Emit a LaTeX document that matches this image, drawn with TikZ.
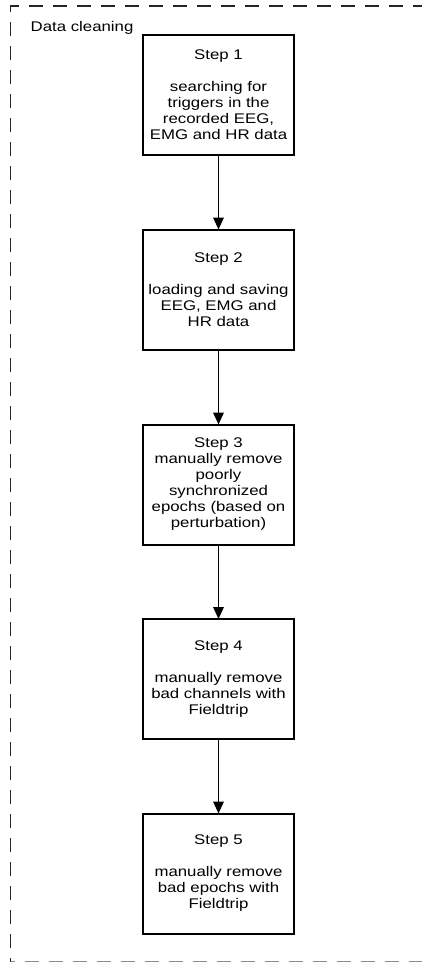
\documentclass[tikz,border=0pt]{standalone}
\usepackage{fontspec}
\setmainfont{Liberation Sans}[FakeStretch=1.2]
\usetikzlibrary{arrows.meta}
\begin{document}
\begin{tikzpicture}[x=1pt,y=-1pt,
  stepbox/.style={draw=black,line width=2pt,minimum width=151.6pt,minimum height=120pt,inner sep=0pt,outer sep=0pt,align=center,font=\fontsize{14}{16}\selectfont,text=black},
  flow/.style={line width=1.9pt,-{Triangle[length=12pt,width=10.5pt]}},
  frame/.style={draw=black!85,line width=1.5pt,dash pattern=on 14pt off 10pt,dash phase=10pt}]
\useasboundingbox (0,0) rectangle (422,962);
\clip (0,0) rectangle (422,962);
\draw[frame] (10.5,962) -- (10.5,6) -- (445,6);
\draw[frame,draw=black!45] (10.5,962.2) -- (445,962.2);
\node[anchor=base west,font=\fontsize{14}{16}\selectfont,text=black,inner sep=0pt] (title) at (30.5,31.5) {Data cleaning};
\node[stepbox] (s1) at (218.5,95) {Step 1\\[16pt]searching for\\triggers in the\\recorded EEG,\\EMG and HR data};
\node[stepbox] (s2) at (218.5,289.5) {Step 2\\[16pt]loading and saving\\EEG, EMG and\\HR data};
\node[stepbox] (s3) at (218.5,484.5) {Step 3\\manually remove\\poorly\\synchronized\\epochs (based on\\perturbation)};
\node[stepbox] (s4) at (218.5,679) {Step 4\\[16pt]manually remove\\bad channels with\\Fieldtrip};
\node[stepbox] (s5) at (218.5,873.5) {Step 5\\[16pt]manually remove\\bad epochs with\\Fieldtrip};
\draw[flow] (s1) -- (s2);
\draw[flow] (s2) -- (s3);
\draw[flow] (s3) -- (s4);
\draw[flow] (s4) -- (s5);
\end{tikzpicture}
\end{document}
